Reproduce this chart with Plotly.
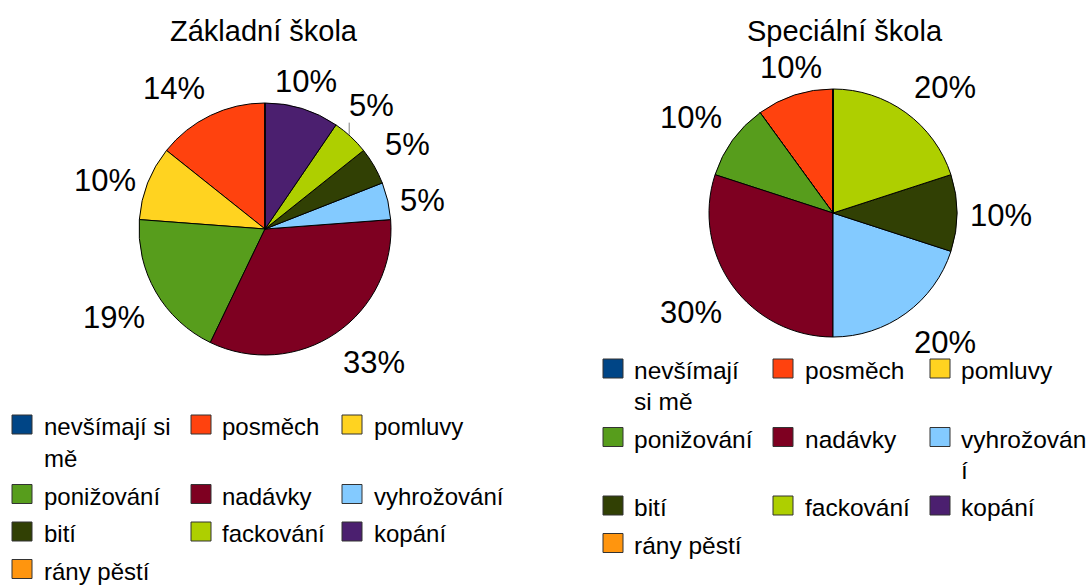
import numpy as np
import plotly.graph_objects as go

# categories in data order (legend order)
categories = ["nevšímají si mě", "posměch", "pomluvy", "ponižování", "nadávky",
              "vyhrožování", "bití", "fackování", "kopání", "rány pěstí"]
colors = ["#004586", "#ff420e", "#ffd320", "#579d1c", "#7e0021",
          "#83caff", "#314004", "#aecf00", "#4b1f6f", "#ff950e"]

# number of answers per category
zakladni_counts = [0, 3, 2, 4, 7, 1, 1, 1, 2, 0]
specialni_counts = [0, 1, 0, 1, 3, 2, 1, 2, 0, 0]

# legend texts as they wrap in each legend box
legend_zakladni = ["nevšímají si<br>mě", "posměch", "pomluvy", "ponižování", "nadávky",
                   "vyhrožování", "bití", "fackování", "kopání", "rány pěstí"]
legend_specialni = ["nevšímají<br>si mě", "posměch", "pomluvy", "ponižování", "nadávky",
                    "vyhrožován<br>í", "bití", "fackování", "kopání", "rány pěstí"]

FONT = "Liberation Sans, Arial, sans-serif"
W, H = 1088, 586
LABEL_FS = 31


def px(x):
    return x / W


def py(y):
    return 1 - y / H


charts = [
    dict(title="Základní škola", counts=zakladni_counts, legend=legend_zakladni,
         cx=265, cy=229, r=126, title_x=264, title_y=31, leader="fackování",
         sq_x=[12, 191, 342], txt_x=[42, 220, 372], row0=424.5, lfs=24, line_h=32),
    dict(title="Speciální škola", counts=specialni_counts, legend=legend_specialni,
         cx=833, cy=213, r=124, title_x=845, title_y=31, leader=None,
         sq_x=[603, 773, 930], txt_x=[632, 803, 959], row0=368.5, lfs=24.5, line_h=31),
]


def anchor_offset(theta_deg, hw, hh):
    # label box touches the anchor point with the corner/edge facing the pie
    sector = int(((theta_deg + 22.5) % 360) // 45)
    dx = [0, -hw, -hw, -hw, 0, hw, hw, hw][sector]
    dy = [-hh, -hh, 0, hh, hh, hh, 0, -hh][sector]
    return dx, dy


fig = go.Figure()
annotations = []
shapes = []

for ch in charts:
    cx, cy, r = ch["cx"], ch["cy"], ch["r"]
    vals = np.array(ch["counts"], dtype=float)
    fig.add_trace(go.Pie(
        labels=categories, values=vals, sort=False, direction="counterclockwise",
        rotation=0, textinfo="none", showlegend=False,
        marker=dict(colors=colors, line=dict(color="#000000", width=1)),
        domain=dict(x=[px(cx - r), px(cx + r)], y=[py(cy + r), py(cy - r)]),
    ))

    annotations.append(dict(
        text=ch["title"], x=px(ch["title_x"]), y=py(ch["title_y"]),
        xref="paper", yref="paper", showarrow=False, xanchor="center", yanchor="middle",
        font=dict(size=29, color="#000000", family=FONT)))

    # percentage labels outside the slices
    total = vals.sum()
    ends = np.cumsum(vals) / total * 360
    starts = ends - vals / total * 360
    for name, v, a0, a1 in zip(categories, vals, starts, ends):
        if v == 0:
            continue
        txt = f"{round(v / total * 100)}%"
        mid_deg = (a0 + a1) / 2
        mid = np.radians(mid_deg)
        hw = LABEL_FS * (0.556 * (len(txt) - 1) + 0.889) / 2
        if name == ch["leader"]:
            # label lifted straight up from the slice edge, joined by a leader line
            ex = cx - r * np.sin(mid)
            ey = cy - r * np.cos(mid)
            lx, ly = ex + hw - 2, ey - 31
            shapes.append(dict(type="line", xref="paper", yref="paper",
                               x0=px(ex - 1.5), x1=px(ex - 1.5), y0=py(ey - 2), y1=py(ey - 14),
                               line=dict(color="#808080", width=1)))
        else:
            R = r + 13
            ax = cx - R * np.sin(mid)
            ay = cy - R * np.cos(mid)
            dx, dy = anchor_offset(mid_deg, hw, 17)
            lx, ly = ax + dx, ay + dy + 2
        annotations.append(dict(
            text=txt, x=px(lx), y=py(ly), xref="paper", yref="paper", showarrow=False,
            xanchor="center", yanchor="middle",
            font=dict(size=LABEL_FS, color="#000000", family=FONT)))

    # legend grid, three columns
    row_y = ch["row0"]
    for row in range(0, len(categories), 3):
        lines_in_row = 1
        for k in range(row, min(row + 3, len(categories))):
            col = k - row
            sx = ch["sq_x"][col]
            shapes.append(dict(type="rect", xref="paper", yref="paper",
                               x0=px(sx), x1=px(sx + 20), y0=py(row_y + 9.5), y1=py(row_y - 9.5),
                               fillcolor=colors[k], line=dict(color="#333333", width=1)))
            parts = ch["legend"][k].split("<br>")
            lines_in_row = max(lines_in_row, len(parts))
            for j, part in enumerate(parts):
                annotations.append(dict(
                    text=part, x=px(ch["txt_x"][col]), y=py(row_y + 2 + j * ch["line_h"]),
                    xref="paper", yref="paper", showarrow=False,
                    xanchor="left", yanchor="middle",
                    font=dict(size=ch["lfs"], color="#000000", family=FONT)))
        row_y += 37.5 + ch["line_h"] * (lines_in_row - 1)

fig.update_layout(
    width=W, height=H,
    margin=dict(l=0, r=0, t=0, b=0),
    paper_bgcolor="#ffffff", plot_bgcolor="#ffffff",
    font=dict(family=FONT, color="#000000"),
    annotations=annotations, shapes=shapes,
)

# drop the browser's default body margin so the figure fills the window
fig.write_html("out.html", config={"displayModeBar": False},
               post_script="document.body.style.margin='0px';")
